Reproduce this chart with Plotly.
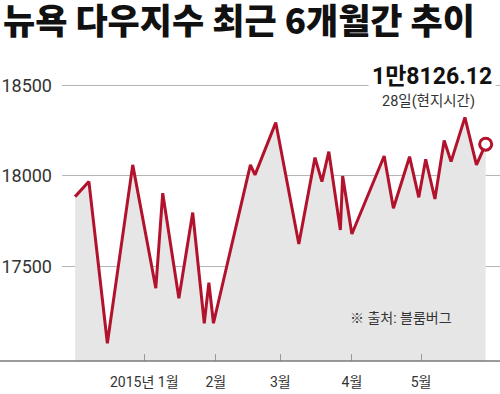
import plotly.graph_objects as go

dates = ["2014-12-02", "2014-12-08", "2014-12-16", "2014-12-27", "2015-01-06",
         "2015-01-09", "2015-01-16", "2015-01-22", "2015-01-27", "2015-01-29",
         "2015-01-31", "2015-02-16", "2015-02-18", "2015-02-27", "2015-03-09",
         "2015-03-16", "2015-03-19", "2015-03-22", "2015-03-27", "2015-03-28",
         "2015-04-01", "2015-04-15", "2015-04-19", "2015-04-26", "2015-04-30",
         "2015-05-03", "2015-05-07", "2015-05-11", "2015-05-14", "2015-05-20",
         "2015-05-25", "2015-05-29"]
values = [17886, 17969, 17078, 18061, 17381, 17905, 17326, 17798, 17188, 17412,
          17188, 18061, 18006, 18294, 17625, 18101, 17969, 18134, 17702, 18000,
          17680, 18110, 17822, 18106, 17882, 18092, 17873, 18195, 18079, 18323,
          18061, 18175]

tick_dates = ["2015-01-01", "2015-02-01", "2015-03-01", "2015-04-01", "2015-05-01"]
tick_labels = ["2015년 1월", "2월", "3월", "4월", "5월"]
y_ticks = [17500, 18000, 18500]

title_text = "뉴욕 다우지수 최근 6개월간 추이"
last_label = "1만8126.12"
last_sub = "28일(현지시간)"
source_text = "※ 출처: 블룸버그"

RED = "#b3122d"
FONT = "Roboto, Noto Sans CJK KR, sans-serif"

fig = go.Figure()
fig.add_trace(go.Scatter(
    x=dates, y=values, mode="lines",
    line=dict(color=RED, width=3),
    fill="tozeroy", fillcolor="#e6e6e6",
    hoverinfo="skip", showlegend=False,
))
fig.add_trace(go.Scatter(
    x=[dates[-1]], y=[values[-1]], mode="markers",
    marker=dict(size=12, color="white", line=dict(color=RED, width=3)),
    showlegend=False, hoverinfo="skip", cliponaxis=False,
))

fig.update_layout(
    width=500, height=394,
    margin=dict(l=62, r=0, t=60, b=33),
    paper_bgcolor="white", plot_bgcolor="white",
    title=dict(text=title_text, x=0.006, xanchor="left",
               y=0.944, yanchor="middle",
               font=dict(family="Noto Sans CJK KR", size=35, weight=900,
                         color="#111111")),
    xaxis=dict(
        type="date", automargin=False,
        range=["2014-11-26 08:00", "2015-06-04 05:00"],
        tickvals=tick_dates, ticktext=tick_labels,
        ticks="inside", ticklen=7, tickcolor="#999999", tickwidth=1,
        showgrid=False, zeroline=False, showline=False,
        ticklabelstandoff=11,
        tickfont=dict(family=FONT, size=14, color="#333333"),
    ),
    yaxis=dict(
        range=[16980, 18639], automargin=False,
        tickvals=y_ticks, tickformat="d",
        showgrid=True, gridcolor="#b5b5b5", gridwidth=1,
        zeroline=False, showline=False, ticks="",
        ticklabelstandoff=9,
        tickfont=dict(family=FONT, size=18, color="#333333"),
    ),
    shapes=[dict(type="line", xref="paper", yref="paper",
                 x0=-62 / 438, x1=1, y0=0, y1=0,
                 line=dict(color="#7a7a7a", width=1.5))],
    annotations=[
        dict(text="<b>" + last_label + "</b>", xref="paper", yref="paper",
             x=0.991, y=0.945, xanchor="right", yanchor="middle",
             showarrow=False, bgcolor="white", borderpad=3,
             font=dict(family=FONT, size=23, color="#111111")),
        dict(text=last_sub, xref="paper", yref="paper",
             x=0.947, y=0.862, xanchor="right", yanchor="middle",
             showarrow=False,
             font=dict(family=FONT, size=14.5, color="#333333")),
        dict(text=source_text, xref="paper", yref="paper",
             x=0.895, y=0.143, xanchor="right", yanchor="middle",
             showarrow=False,
             font=dict(family=FONT, size=14, color="#333333")),
    ],
)

fig.write_html("out.html",
               config={"displayModeBar": False},
               post_script="document.body.style.margin='0';document.body.style.overflow='hidden';")
